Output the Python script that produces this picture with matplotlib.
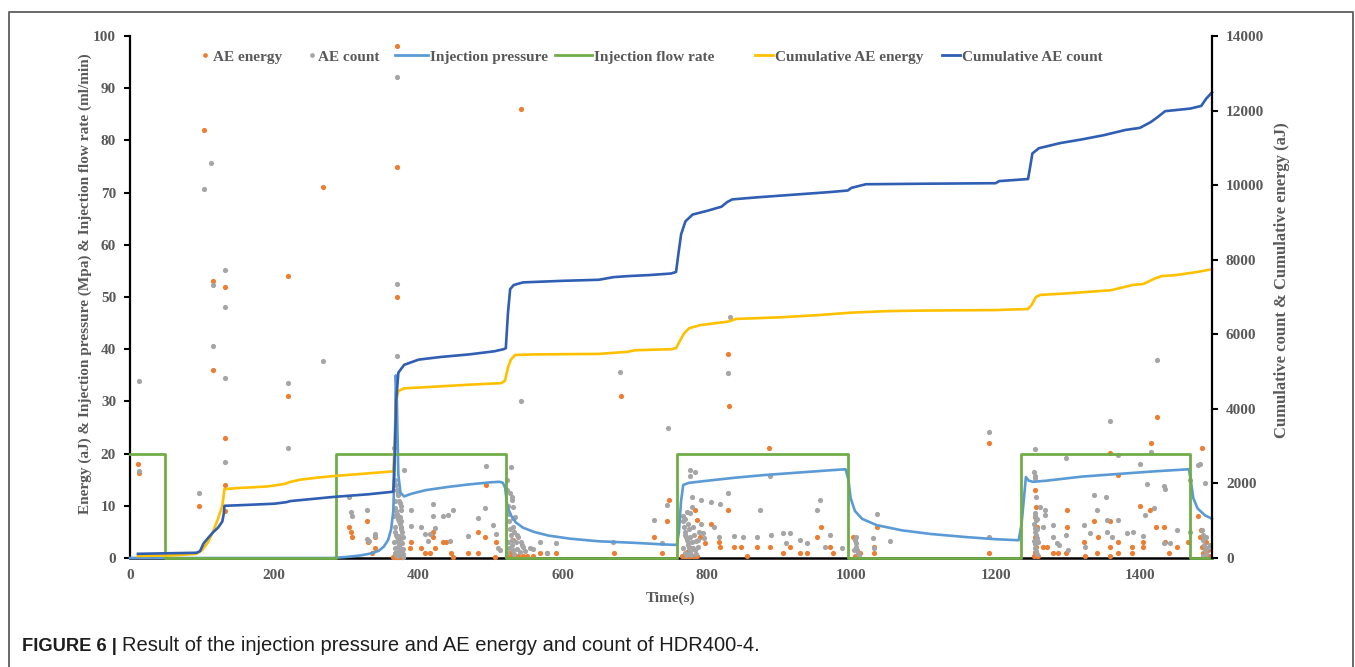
import matplotlib.pyplot as plt
from matplotlib.lines import Line2D

plt.rcParams['font.family'] = ['Liberation Serif', 'DejaVu Serif']
plt.rcParams['font.weight'] = 'bold'
plt.rcParams['axes.labelweight'] = 'bold'

TXT = '#595959'
ORANGE = '#ED7D31'
GRAY = '#A5A5A5'
LBLUE = '#5B9BD5'
GREEN = '#70AD47'
YELLOW = '#FFC000'
DBLUE = '#2F5EB3'

# injection flow rate (ml/min)
flow_t = [0, 48, 48, 286, 286, 521, 521, 759, 759, 995, 995, 1235, 1235, 1470, 1470, 1500]
flow_v = [20, 20, 0, 0, 20, 20, 0, 0, 20, 20, 0, 0, 20, 20, 0, 0]

# injection pressure (MPa)
pres_t = [0, 280, 300, 320, 335, 345, 352, 358, 362, 365, 367, 368.5, 370, 372, 375, 380, 390, 410, 440,
          470, 500, 512, 517, 520, 523, 528, 535, 545, 560, 580, 610, 650, 700, 740, 758, 761, 764, 767,
          775, 800, 840, 880, 930, 970, 992, 996, 999, 1005, 1015, 1035, 1070, 1110, 1160, 1200, 1232,
          1236, 1239, 1242, 1246, 1252, 1270, 1320, 1370, 1420, 1468, 1471, 1474, 1480, 1490, 1500]
pres_v = [0, 0, 0.2, 0.5, 0.9, 1.4, 2.2, 3.5, 5.5, 9, 18, 35, 30, 16, 12.5, 11.8, 12.3, 13, 13.6,
          14.1, 14.5, 14.6, 14.4, 13.5, 10, 8.2, 6.8, 5.8, 5, 4.3, 3.7, 3.2, 2.9, 2.6, 2.5, 5, 11, 14,
          14.4, 14.8, 15.4, 15.9, 16.4, 16.8, 17, 15, 11.5, 9, 7.5, 6.3, 5.3, 4.6, 4, 3.6, 3.4,
          6.5, 11, 15.5, 14.8, 14.6, 14.8, 15.6, 16.1, 16.6, 17, 14.5, 11.5, 9.5, 8.2, 7.5]

# cumulative AE energy (aJ), right axis
cum_e_t = [11, 60, 92, 100, 108, 115, 122, 128, 131, 150, 190, 215, 220, 236, 260, 282, 320, 365, 367, 369,
           372, 380, 420, 470, 515, 520, 524, 528, 534, 560, 650, 690, 700, 750, 757, 762, 768, 775, 790, 830,
           840, 900, 950, 1000, 1050, 1100, 1200, 1245, 1250, 1256, 1262, 1300, 1330, 1360, 1390, 1405, 1420,
           1430, 1450, 1480, 1495, 1500]
cum_e_v = [56, 70, 112, 210, 420, 700, 1050, 1400, 1848, 1876, 1918, 1988, 2030, 2100, 2156, 2198, 2254, 2324,
           3080, 4200, 4480, 4550, 4592, 4648, 4690, 4760, 5110, 5320, 5446, 5460, 5474, 5530, 5572, 5600, 5628,
           5810, 6020, 6160, 6244, 6342, 6412, 6454, 6510, 6580, 6622, 6636, 6650, 6678, 6790, 7000, 7056, 7098,
           7140, 7182, 7322, 7350, 7490, 7560, 7588, 7672, 7728, 7742]

# cumulative AE count, right axis
cum_c_t = [11, 50, 92, 97, 102, 108, 115, 122, 128, 130, 131, 150, 200, 217, 222, 282, 330, 365, 367, 369, 372,
           380, 400, 430, 470, 505, 518, 521, 524, 527, 532, 545, 600, 650, 670, 690, 720, 750, 757, 760, 764,
           770, 780, 800, 820, 828, 835, 870, 920, 970, 995, 1000, 1020, 1100, 1200, 1205, 1245, 1248, 1251,
           1260, 1290, 1320, 1350, 1380, 1400, 1415, 1425, 1435, 1470, 1485, 1492, 1500]
cum_c_v = [112, 126, 140, 182, 392, 532, 686, 812, 980, 1190, 1400, 1414, 1456, 1498, 1526, 1638, 1708, 1778,
           2800, 4200, 4970, 5180, 5320, 5390, 5460, 5544, 5600, 5628, 6580, 7210, 7322, 7392, 7434, 7462, 7532,
           7560, 7588, 7630, 7672, 8120, 8680, 9030, 9212, 9310, 9422, 9548, 9618, 9674, 9744, 9814, 9856, 9926,
           10024, 10038, 10052, 10108, 10164, 10500, 10850, 10990, 11130, 11228, 11340, 11480, 11536, 11690,
           11830, 11984, 12054, 12124, 12320, 12488]

# AE energy points (time, aJ)
ae_energy = [
    (11, 18), (13, 16.2), (96, 10), (102, 82), (115, 53), (115, 36), (132, 52), (132, 23), (132, 14), (132, 9),
    (219, 54), (219, 31), (267, 71),
    (303, 6), (306, 5), (308, 4), (328, 7), (330, 3), (335, 1), (339, 4), (340, 2),
    (370, 98), (370, 75), (370, 50),
    (365, 0.2), (367, 0.2), (369, 0.2), (371, 0.2), (373, 0.2), (375, 0.2), (377, 0.2), (379, 0.2),
    (368, 0.8), (372, 0.6), (374, 1.2),
    (390, 3), (388, 2), (404, 2), (409, 1), (420, 4), (420, 5), (416, 1), (423, 2), (434, 3), (438, 3),
    (445, 1), (448, 0.2), (469, 1), (483, 5), (483, 1), (492, 4), (494, 14), (508, 3), (506, 0.2),
    (522, 0.3), (526, 0.3), (530, 0.3), (534, 0.3), (538, 0.3), (545, 0.3), (550, 0.3), (558, 0.3),
    (527, 1), (531, 3.4), (578, 1),
    (542, 86), (568, 1), (591, 1), (671, 1), (680, 31), (726, 4.1), (737, 1), (747, 11.1), (744, 7),
    (829, 39), (831, 29.2), (886, 21),
    (765, 0.3), (768, 0.3), (771, 0.3), (774, 0.3), (777, 0.3), (780, 0.3), (783, 0.3), (786, 0.3),
    (772, 1.2), (778, 2),
    (783, 9.2), (786, 7.3), (790, 4.1), (797, 2.8), (806, 6.6), (829, 9.1), (816, 3.1), (818, 2.2),
    (837, 2.2), (847, 2.2), (856, 0.3), (869, 2.2), (887, 2.2), (905, 1), (915, 2.2), (929, 1), (938, 1),
    (958, 6), (952, 4.1), (971, 2.2), (975, 1),
    (1003, 4.1), (1012, 1), (1035, 6), (1031, 2.2), (1031, 1), (1005, 0.3), (1009, 0.3),
    (1191, 22.1), (1191, 1),
    (1255, 13), (1256, 9.8), (1254, 7.9), (1257, 6), (1255, 4.1), (1256, 2.2), (1253, 0.3), (1257, 0.3),
    (1259, 0.3), (1255, 1.2), (1258, 3.2),
    (1266, 2.2), (1271, 2.2), (1280, 1), (1287, 1), (1299, 9.2), (1299, 6), (1298, 1), (1322, 3.1),
    (1324, 0.3), (1336, 7), (1342, 4.1), (1340, 1),
    (1359, 20.1), (1359, 7), (1359, 2.2), (1359, 0.3), (1370, 15.9), (1370, 3.1), (1370, 1), (1389, 2.2),
    (1389, 1), (1400, 10), (1405, 3.1), (1405, 2.2), (1414, 9.2), (1415, 22), (1423, 6), (1424, 27.1),
    (1433, 6), (1435, 3.1), (1440, 1), (1451, 2.2), (1467, 3.1), (1481, 8.1), (1486, 21),
    (1484, 4.1), (1486, 2.2), (1488, 1), (1490, 0.3), (1492, 3.1), (1494, 1.5), (1496, 0.3), (1485, 5.4),
]

# AE count points (time, count)
ae_count = [
    (12, 34), (12, 16.7), (96, 12.5), (102, 70.6), (112, 75.7), (115, 52.3), (115, 40.7), (132, 55.2),
    (132, 48.1), (132, 34.4), (132, 18.4), (219, 33.5), (219, 21), (267, 37.7),
    (370, 92.2), (370, 52.5), (370, 38.7),
    (303, 11.7), (307, 8.9), (308, 8.1), (328, 9.2), (328, 3.7), (332, 3.2), (339, 4.3), (339, 4.6),
    (366, 21), (368, 15), (369, 14), (370, 13), (371, 12.5), (372, 12), (373, 11), (374, 10.5), (375, 10),
    (368, 9.5), (369, 9), (370, 8.5), (371, 8), (372, 7.5), (373, 7), (374, 6.5), (375, 6), (376, 5.5),
    (368, 5), (369, 4.5), (370, 4), (371, 3.5), (372, 3), (373, 2.5), (374, 2), (375, 1.5), (376, 1),
    (377, 0.5), (378, 0.2), (367, 11), (366, 8), (367, 6), (366, 3), (367, 2), (368, 1), (369, 0.5),
    (370, 0.3), (371, 1.2), (372, 2.2), (373, 4.2), (374, 7.8), (375, 9.2), (376, 3.8), (377, 2.8),
    (378, 1.8), (379, 0.8), (376, 7), (377, 5), (378, 4), (380, 16.9),
    (390, 9.2), (390, 6.2), (404, 6), (409, 4.6), (416, 4.6), (420, 10.3), (420, 8), (413, 3.2), (423, 5.7),
    (434, 8), (441, 8.2), (443, 3.3), (448, 9.2), (469, 4.3), (483, 7.6), (492, 9.6), (494, 17.6),
    (503, 6.3), (508, 4.6), (510, 2), (513, 1.6),
    (542, 30), (528, 17.5), (522, 15), (527, 12.4), (529, 11.7), (530, 11.1), (531, 9.8), (534, 7.9),
    (531, 6), (538, 4.1), (543, 2.5), (545, 2.2), (541, 1.2), (523, 13), (524, 10), (525, 8.5), (526, 7),
    (527, 5.5), (528, 4.5), (529, 3.5), (530, 2.5), (531, 1.5), (532, 0.8), (524, 3), (526, 2), (522, 1),
    (533, 5), (535, 3), (536, 1.8), (531, 7.6), (537, 4.4), (542, 3), (555, 2), (548, 1.3),
    (558, 1.8), (568, 3.1), (578, 1), (591, 2.8), (679, 35.6), (670, 3),
    (726, 7.3), (737, 2.8), (744, 10.2), (746, 25),
    (776, 16.9), (783, 16.4), (776, 15.7), (779, 11.7), (791, 11.2), (779, 9.8), (776, 8.6),
    (766, 8), (767, 7), (768, 6), (769, 5), (770, 4.5), (771, 4), (772, 3.5), (773, 3), (774, 2.5),
    (775, 2), (776, 1.5), (777, 1), (778, 0.5), (767, 2), (769, 1), (771, 0.5), (773, 6.5), (775, 5.5),
    (777, 4), (779, 3), (781, 2), (783, 1.5), (785, 0.8), (770, 7.5), (772, 8.8), (780, 6), (782, 4.5),
    (784, 3.2), (787, 2.2), (789, 5), (788, 3.5), (792, 6.5), (794, 4.8), (796, 3.8),
    (805, 10.8), (818, 10.3), (829, 12.4), (809, 6), (816, 4.1), (837, 4.2), (850, 4.1), (869, 4.1),
    (873, 9.2), (888, 4.4), (887, 15.7), (905, 4.7), (915, 4.7), (910, 2.8), (929, 3.4), (938, 2.9),
    (952, 9.2), (957, 11.1), (964, 2.2), (971, 4.4), (987, 1.9),
    (829, 35.5), (832, 46.2),
    (1005, 3.4), (1006, 2.8), (1007, 2.2), (1008, 1.6), (1009, 1), (1010, 0.6), (1006, 4), (1004, 1.5),
    (1035, 8.4), (1030, 3.8), (1032, 1.9), (1054, 3.3),
    (1191, 24.2), (1191, 4.1),
    (1255, 20.9), (1253, 16.5), (1255, 15.8), (1254, 15.3), (1256, 11.7), (1254, 8.6), (1255, 8), (1256, 7.2),
    (1253, 6.5), (1254, 5.8), (1255, 5), (1256, 4.4), (1257, 3.8), (1253, 3.2), (1254, 2.6), (1255, 2),
    (1256, 1.4), (1257, 0.8), (1258, 5.5), (1258, 7.5), (1259, 3),
    (1262, 9.8), (1268, 9.2), (1268, 8.2), (1266, 6), (1280, 6.3), (1280, 4.1), (1285, 2.8), (1288, 2.5),
    (1298, 19.1), (1298, 4.4), (1301, 1.5), (1322, 6.3), (1324, 2.2), (1336, 12.1), (1331, 4.7),
    (1340, 9.2), (1353, 11.7), (1355, 7.2), (1354, 5), (1359, 26.3), (1361, 4.1), (1370, 19.7), (1370, 7.3),
    (1382, 4.7), (1390, 4.9), (1400, 18.1), (1404, 4.3), (1407, 8.2), (1410, 14.1), (1416, 20.4),
    (1420, 9.5), (1433, 13.8), (1435, 13.3), (1433, 2.8), (1442, 2.8), (1451, 5.4), (1470, 5), (1470, 15),
    (1481, 17.8), (1484, 18.1), (1490, 14.4), (1424, 38),
    (1486, 5.4), (1487, 4.4), (1488, 3.4), (1489, 2.5), (1490, 1.6), (1491, 0.8), (1492, 4), (1493, 2),
    (1488, 0.4), (1497, 2.5),
]

energy_t, energy_v = zip(*ae_energy)
count_t, count_v = zip(*ae_count)

W, H = 1355, 667
fig = plt.figure(figsize=(W / 100, H / 100), dpi=100)
ax = fig.add_axes([130 / W, 1 - 558 / H, 1082 / W, 522 / H])
ax2 = ax.twinx()

ax.scatter(energy_t, energy_v, s=14, color=ORANGE, linewidths=0, zorder=3, clip_on=False)
ax.scatter(count_t, count_v, s=14, color=GRAY, linewidths=0, zorder=3, clip_on=False)
ax.plot(pres_t, pres_v, color=LBLUE, lw=1.9, zorder=4, clip_on=False)
ax.plot(flow_t, flow_v, color=GREEN, lw=2.0, zorder=4, clip_on=False)
ax2.plot(cum_e_t, cum_e_v, color=YELLOW, lw=1.9, clip_on=False)
ax2.plot(cum_c_t, cum_c_v, color=DBLUE, lw=1.9, clip_on=False)

ax.set_xlim(0, 1500)
ax.set_ylim(0, 100)
ax2.set_ylim(0, 14000)
ax.set_xticks(range(0, 1401, 200))
ax.set_yticks(range(0, 101, 10))
ax2.set_yticks(range(0, 14001, 2000))

for s in ['top', 'right']:
    ax.spines[s].set_visible(False)
for s in ['top', 'left', 'bottom']:
    ax2.spines[s].set_visible(False)
ax.spines['left'].set_linewidth(1.6)
ax.spines['bottom'].set_linewidth(1.8)
ax2.spines['right'].set_linewidth(1.6)

ax.tick_params(axis='x', length=0, pad=8, labelsize=11, labelcolor=TXT)
ax.tick_params(axis='y', direction='out', length=4, width=1.5, pad=6, labelsize=11, labelcolor=TXT)
ax2.tick_params(axis='y', direction='out', length=4, width=1.5, pad=6, labelsize=11, labelcolor=TXT)

ax.set_xlabel('Time(s)', fontsize=11, color=TXT)
ax.xaxis.set_label_coords(0.5, -0.064)
ax.set_ylabel('Energy (aJ) & Injection pressure (Mpa) & Injection flow rate (ml/min)', fontsize=11, color=TXT)
ax.yaxis.set_label_coords(-0.035, 0.525)
ax2.set_ylabel('Cumulative count & Cumulative energy (aJ)', fontsize=12, color=TXT)
ax2.yaxis.set_label_coords(1.057, 0.532)

# legend, one entry at a time to keep Excel-like spacing
leg_items = [
    (Line2D([], [], marker='o', ms=3.4, ls='none', color=ORANGE, mew=0), 'AE energy', 200.5, 0.6, 0.23),
    (Line2D([], [], marker='o', ms=3.4, ls='none', color=GRAY, mew=0), 'AE count', 307.5, 0.6, 0.1),
    (Line2D([], [], color=LBLUE, lw=2), 'Injection pressure', 395, 2.15, 0.12),
    (Line2D([], [], color=GREEN, lw=2), 'Injection flow rate', 555, 2.4, 0.12),
    (Line2D([], [], color=YELLOW, lw=2), 'Cumulative AE energy', 755, 1.2, 0.12),
    (Line2D([], [], color=DBLUE, lw=2), 'Cumulative AE count', 942, 1.2, 0.12),
]
for h, lbl, x0, hl, hp in leg_items:
    fig.legend([h], [lbl], loc='center left', bbox_to_anchor=(x0 / W, 1 - 57 / H), frameon=False,
               borderpad=0, borderaxespad=0, handlelength=hl, handletextpad=hp, numpoints=1,
               prop={'family': 'Liberation Serif', 'weight': 'bold', 'size': 11}, labelcolor=TXT)

# outer frame of the figure panel
fig.add_artist(Line2D([9 / W, 9 / W, 1353 / W, 1353 / W], [-0.01, 1 - 12 / H, 1 - 12 / H, -0.01],
                      transform=fig.transFigure, color='#5e5e5e', lw=1.3))

# caption
cap1 = fig.text(22 / W, 1 - 651 / H, 'FIGURE 6 |', family='Liberation Sans', weight='bold',
                fontsize=13.2, color='#1e1e1e', va='baseline')
r = fig.canvas.get_renderer()
bb = cap1.get_window_extent(renderer=r)
fig.text(bb.x1 / W + 5 / W, 1 - 651 / H, 'Result of the injection pressure and AE energy and count of HDR400-4.',
         family='Liberation Sans', weight='normal', fontsize=14.5, color='#1e1e1e', va='baseline')

fig.savefig('out.png', dpi=100)
